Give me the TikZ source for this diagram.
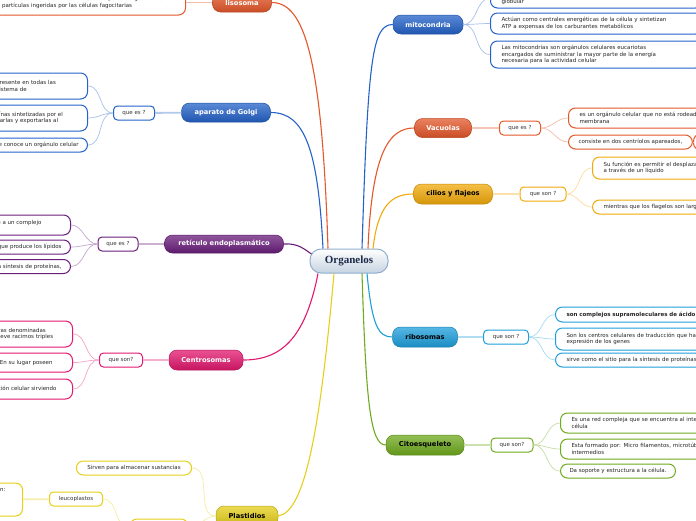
\documentclass[tikz,border=0pt]{standalone}
\usepackage{fontspec}
\setmainfont{DejaVu Sans}
\newfontfamily\rootfont{Liberation Serif}
\usetikzlibrary{calc}
\definecolor{mitoC}{HTML}{2462C8}
\definecolor{vacC}{HTML}{E4572A}
\definecolor{cilC}{HTML}{F2AA0A}
\definecolor{ribC}{HTML}{1E9FDC}
\definecolor{citC}{HTML}{6FAA1E}
\definecolor{retC}{HTML}{6A1E7C}
\definecolor{cenC}{HTML}{E2186E}
\definecolor{plaC}{HTML}{E5CF1A}
\definecolor{rootline}{HTML}{8FAECF}
\definecolor{rootfill}{HTML}{C6D3E0}
\definecolor{rootink}{HTML}{1B2A4A}

\begin{document}
\begin{tikzpicture}[x=1pt, y=-1pt,
        rootbox/.style={draw=rootline, line width=1pt, rounded corners=11pt, top color=white, bottom color=rootfill, minimum width=78pt, minimum height=24pt, font=\rootfont\fontsize{11}{12}\selectfont\bfseries, text=rootink},
        organbox/.style={draw=#1!80!black, line width=0.5pt, rounded corners=8pt, top color=#1!75!white, bottom color=#1!88!black, minimum height=19pt, font=\fontsize{6.7}{7}\selectfont\bfseries, text=white},
        questbox/.style={draw=#1, line width=1pt, fill=white, rounded corners=4pt, minimum height=14pt, font=\fontsize{5.5}{6.5}\selectfont, text=black!80},
        leafbox/.style={draw=#1, line width=1pt, fill=white, rounded corners=7pt, minimum height=14pt, inner xsep=11pt, inner ysep=3pt, align=left, font=\fontsize{5.5}{6.6}\selectfont, text=black!85},
        branchline/.style={draw=#1, line width=1.1pt},
        stemline/.style={draw=#1!35, line width=1.8pt},
        twigline/.style={draw=#1!40, line width=0.7pt}]
    \useasboundingbox (0,0) rectangle (696,520);

    \node[rootbox] (org) at (349,261) {Organelos};

    \node[organbox=mitoC, minimum width=70pt] (mito) at (428,24.5) {mitocondria};
    \node[leafbox=mitoC, anchor=south west, text width=190pt, text height=12pt] (mito1) at (490,8.5) {globular};
    \node[leafbox=mitoC, anchor=west, text width=190pt, minimum height=21pt] (mito2) at (490,23.5) {Actúan como centrales energéticas de la célula y sintetizan\\ATP a expensas de los carburantes metabólicos};
    \node[leafbox=mitoC, anchor=west, text width=190pt, minimum height=27pt] (mito3) at (490,54.5) {Las mitocondrias son orgánulos celulares eucariotas\\encargados de suministrar la mayor parte de la energía\\necesaria para la actividad celular};

    \node[organbox=vacC, minimum width=57pt] (vac) at (443,128) {Vacuolas};
    \node[questbox=vacC, minimum width=41pt] (vacq) at (520,128) {que es ?};
    \node[leafbox=vacC, anchor=west, text width=180pt, minimum height=20pt] (vac1) at (568,118) {es un orgánulo celular que no está rodeado por una\\membrana};
    \node[leafbox=vacC, anchor=west, inner xsep=10pt] (vac2) at (568,142) {consiste en dos centríolos apareados,};
    \node[leafbox=vacC, anchor=west, inner xsep=4pt, minimum width=20pt, minimum height=16pt] (vac3) at (693,142) {};

    \node[organbox=cilC, text=black, minimum width=79pt, minimum height=20pt] (cil) at (453,194) {cilios y flajeos};
    \node[questbox=cilC, minimum width=46pt] (cilq) at (543,194) {que son ?};
    \node[leafbox=cilC, anchor=west, text width=180pt, minimum height=22pt] (cil1) at (592,168) {Su función es permitir el desplazamiento\\a través de un líquido};
    \node[leafbox=cilC, anchor=west, text width=180pt] (cil2) at (592,207) {mientras que los flagelos son largos};

    \node[organbox=ribC, text=black, minimum width=65pt, minimum height=20pt] (rib) at (425,337) {ribosomas};
    \node[questbox=ribC, minimum width=45pt] (ribq) at (506,337) {que son ?};
    \node[leafbox=ribC, anchor=west, text width=190pt, minimum height=15pt] (rib1) at (555,314.5) {\bfseries son complejos supramoleculares de ácido ribonucleico};
    \node[leafbox=ribC, anchor=west, text width=200pt, minimum height=22pt] (rib2) at (555,339) {Son los centros celulares de traducción que hacen posible la\\expresión de los genes};
    \node[leafbox=ribC, anchor=west, text width=180pt] (rib3) at (555,360) {sirve como el sitio para la síntesis de proteínas};

    \node[organbox=citC, text=black, minimum width=78pt, minimum height=20pt] (cito) at (425,445) {Citoesqueleto};
    \node[questbox=citC, minimum width=42pt] (citq) at (512,445) {que son?};
    \node[leafbox=citC, anchor=west, text width=190pt, minimum height=20pt] (cito1) at (560,423) {Es una red compleja que se encuentra al interior de la\\célula};
    \node[leafbox=citC, anchor=west, text width=200pt, minimum height=20pt] (cito2) at (560,449) {Esta formado por: Micro filamentos, microtúbulos y filamentos\\intermedios};
    \node[leafbox=citC, anchor=west, inner xsep=9pt] (cito3) at (560,471) {Da soporte y estructura a la célula.};

    \node[organbox=vacC, minimum width=59pt] (liso) at (242,2.5) {lisosoma};
    \node[leafbox=vacC, anchor=east, text width=182pt, minimum height=25pt] (liso1) at (186,2.5) {contiene reservas de enzimas necesarias para la digestión de\\las partículas ingeridas por las células fagocitarias};

    \node[organbox=mitoC, minimum width=89pt] (golgi) at (226,112.5) {aparato de Golgi};
    \node[questbox=mitoC, minimum width=41pt] (golq) at (134,113) {que es ?};
    \node[leafbox=mitoC, anchor=east, text width=80pt, minimum height=26pt] (gol1) at (88,86) {Presente en todas las\\sistema de};
    \node[leafbox=mitoC, anchor=east, text width=92pt, minimum height=26pt] (gol2) at (88,118) {proteínas sintetizadas por el\\separarlas y exportarlas al};
    \node[leafbox=mitoC, anchor=east, inner xsep=9pt] (gol3) at (88,145) {Se conoce un orgánulo celular};

    \node[organbox=retC, minimum width=119pt, minimum height=18pt] (ret) at (224,244) {retículo endoplasmático};
    \node[questbox=retC, minimum width=40pt] (retq) at (118,244) {que es ?};
    \node[leafbox=retC, anchor=east, inner xsep=29pt, text height=6pt, text depth=8pt] (ret1) at (71,225) {Se refiere a un complejo};
    \node[leafbox=retC, anchor=east, inner xsep=9pt] (ret2) at (71,247) {Orgánulo que produce los lípidos};
    \node[leafbox=retC, anchor=east, inner xsep=9pt] (ret3) at (71,266.5) {Interviene en la síntesis de proteínas,};

    \node[organbox=cenC, minimum width=74pt, minimum height=20pt] (cen) at (206,360) {Centrosomas};
    \node[questbox=cenC, minimum width=43pt] (cenq) at (121,360) {que son?};
    \node[leafbox=cenC, anchor=east, text width=119pt, minimum height=26pt] (cen1) at (73,334) {Poseen dos estructuras denominadas\\de centríolos, con nueve racimos triples};
    \node[leafbox=cenC, anchor=east, inner xsep=20pt, minimum height=19pt] (cen2) at (73,362.5) {En su lugar poseen};
    \node[leafbox=cenC, anchor=east, inner xsep=16pt, minimum height=20pt] (cen3) at (73,389) {la organización celular sirviendo};

    \node[organbox=plaC, text=black, minimum width=62pt, minimum height=20pt] (pla) at (247,516) {Plastidios};
    \node[leafbox=plaC] (pla1) at (134,468) {Sirven para almacenar sustancias};
    \node[leafbox=plaC, minimum width=58pt, minimum height=18pt] (pla2) at (159,528) {};
    \node[questbox=plaC, minimum width=53pt] (leu) at (76,499) {leucoplastos};
    \node[leafbox=plaC, anchor=east, inner xsep=17pt, text height=5pt, text depth=22pt] (leu1) at (23,499.5) {Se clasifican en:};

    \draw[branchline=vacC] ([xshift=-21pt]org.north) .. controls (322,60) and (305,2.5) .. (liso.east);
    \draw[branchline=mitoC] ([xshift=-26pt]org.north) .. controls (318,150) and (305,112.5) .. (golgi.east);
    \draw[branchline=retC] ([xshift=2pt, yshift=7pt]org.west) .. controls (304,249) and (298,243) .. (ret.east);
    \draw[branchline=cenC] ([xshift=-31pt]org.south) .. controls (305,340) and (280,360) .. (cen.east);
    \draw[branchline=plaC] ([xshift=-15pt]org.south) .. controls (320,430) and (305,512) .. (pla.east);
    \draw[branchline=mitoC] ([xshift=13pt]org.north) .. controls (368,60) and (372,24.5) .. (mito.west);
    \draw[branchline=vacC] ([xshift=19pt]org.north) .. controls (372,150) and (390,128) .. (vac.west);
    \draw[branchline=cilC] ([xshift=24pt]org.north) .. controls (378,205) and (392,194) .. (cil.west);
    \draw[branchline=ribC] ([xshift=18pt]org.south) .. controls (372,325) and (378,337) .. (rib.west);
    \draw[branchline=citC] ([xshift=13pt]org.south) .. controls (366,400) and (370,445) .. (cito.west);

    \draw[stemline=vacC] (vac) -- (vacq);
    \draw[stemline=cilC] (cil) -- (cilq);
    \draw[stemline=ribC] (rib) -- (ribq);
    \draw[stemline=citC] (cito) -- (citq);
    \draw[stemline=mitoC] (golgi) -- (golq);
    \draw[stemline=retC] (ret) -- (retq);
    \draw[stemline=cenC] (cen) -- (cenq);
    \draw[stemline=plaC] (leu) -- (leu1);
    \draw[twigline=vacC] (liso) -- (liso1);
    \draw[twigline=vacC] (vac2) -- (vac3);

    \foreach \l in {mito1,mito2,mito3}{
        \draw[twigline=mitoC] (mito.east) to[out=0,in=180] (\l.west);
    }
    \foreach \l in {vac1,vac2}{
        \draw[twigline=vacC] (vacq.east) to[out=0,in=180] (\l.west);
    }
    \foreach \l in {cil1,cil2}{
        \draw[twigline=cilC] (cilq.east) to[out=0,in=180] (\l.west);
    }
    \foreach \l in {rib1,rib2,rib3}{
        \draw[twigline=ribC] (ribq.east) to[out=0,in=180] (\l.west);
    }
    \foreach \l in {cito1,cito2,cito3}{
        \draw[twigline=citC] (citq.east) to[out=0,in=180] (\l.west);
    }
    \foreach \l in {gol1,gol2,gol3}{
        \draw[twigline=mitoC] (golq.west) to[out=180,in=0] (\l.east);
    }
    \foreach \l in {ret1,ret2,ret3}{
        \draw[twigline=retC] (retq.west) to[out=180,in=0] (\l.east);
    }
    \foreach \l in {cen1,cen2,cen3}{
        \draw[twigline=cenC] (cenq.west) to[out=180,in=0] (\l.east);
    }
    \foreach \l in {pla1,pla2}{
        \draw[twigline=plaC] (pla.west) to[out=180,in=0] (\l.east);
    }
    \draw[twigline=plaC] (pla2.west) to[out=180,in=0] (leu.east);
\end{tikzpicture}
\end{document}
